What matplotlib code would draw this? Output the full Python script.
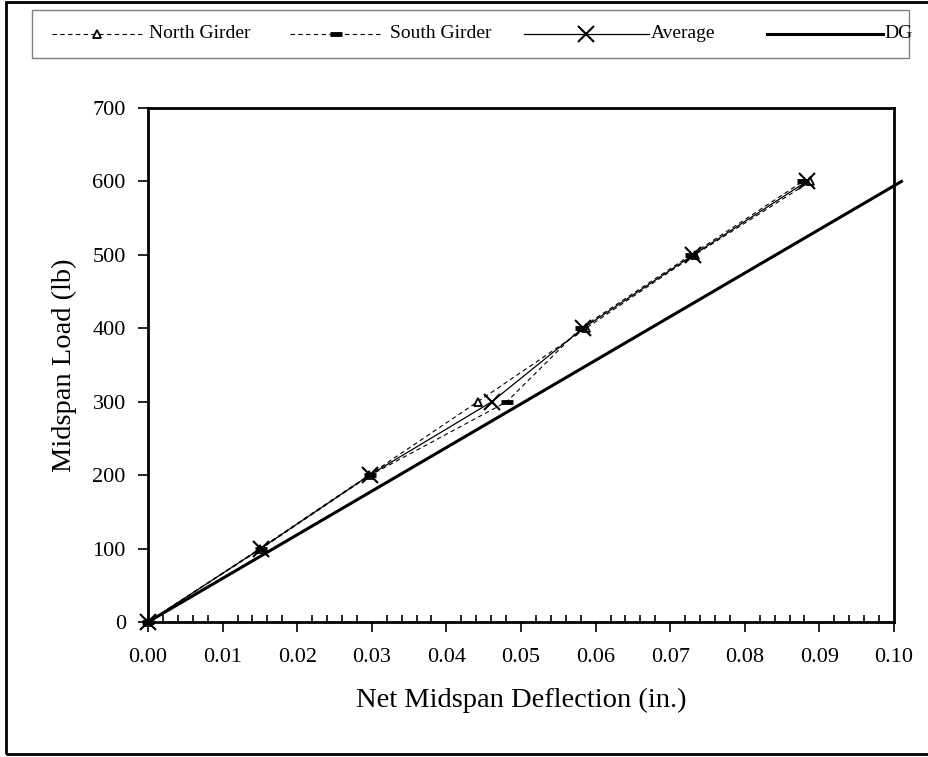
import matplotlib.pyplot as plt
from matplotlib.patches import Rectangle
from matplotlib.lines import Line2D
from matplotlib.ticker import MultipleLocator

plt.rcParams['font.family'] = ['Liberation Serif', 'DejaVu Serif']

# data
load = [0, 100, 200, 300, 400, 500, 600]
north = [0.0, 0.0150, 0.0296, 0.0442, 0.0587, 0.0733, 0.0888]
south = [0.0, 0.0152, 0.0298, 0.0481, 0.0580, 0.0728, 0.0878]
average = [0.0, 0.0151, 0.0297, 0.0461, 0.0583, 0.0731, 0.0883]
dg_defl = [0.0, 0.0505, 0.1010]
dg_load = [0, 300, 600]

W, H = 929, 757
fig = plt.figure(figsize=(W / 100, H / 100), dpi=100)
ax = fig.add_axes([148 / W, 1 - 622 / H, (894 - 148) / W, (622 - 108) / H])


def fx(x):
    return x / W


def fy(y):
    return 1 - y / H


# outer frame
fig.patches.append(Rectangle((fx(6), fy(754)), 1.0, (754 - 2) / H, transform=fig.transFigure,
                             fill=False, edgecolor='black', linewidth=2, clip_on=False))

styles = {
    'North Girder': dict(color='black', lw=0.8, ls=(0, (4, 3)), marker='^', ms=6,
                         mfc='white', mec='black', mew=1.3),
    'South Girder': dict(color='black', lw=0.8, ls=(0, (4, 3)), marker='_', ms=8,
                         mew=3.5, mec='black'),
    'Average': dict(color='black', lw=0.9, marker='x', ms=12, mew=1.5),
    'DG': dict(color='black', lw=2.2),
}

ax.plot(north, load, clip_on=False, **styles['North Girder'])
ax.plot(south, load, clip_on=False, **styles['South Girder'])
ax.plot(average, load, clip_on=False, **styles['Average'])
ax.plot(dg_defl, dg_load, clip_on=False, **styles['DG'])

ax.set_xlim(0, 0.10)
ax.set_ylim(0, 700)
ax.xaxis.set_major_locator(MultipleLocator(0.01))
ax.xaxis.set_minor_locator(MultipleLocator(0.002))
ax.yaxis.set_major_locator(MultipleLocator(100))
ax.xaxis.set_major_formatter(plt.FuncFormatter(lambda v, p: f'{v:.2f}'))

for s in ax.spines.values():
    s.set_linewidth(2)
ax.tick_params(axis='x', which='major', direction='out', length=7, width=1.2,
               labelsize=16, pad=12)
ax.tick_params(axis='x', which='minor', direction='in', length=5, width=1.2)
ax.tick_params(axis='y', which='major', direction='out', length=7, width=1.2,
               labelsize=16, pad=9)

ax.set_xlabel('Net Midspan Deflection (in.)', fontsize=20.5, labelpad=15)
ax.set_ylabel('Midspan Load (lb)', fontsize=20.5, labelpad=11)

# legend box drawn by hand, Excel style
fig.patches.append(Rectangle((fx(32), fy(58)), (909 - 32) / W, (58 - 10) / H,
                             transform=fig.transFigure, fill=False,
                             edgecolor='#808080', linewidth=1))
leg_y = 34
leg_entries = [
    ('North Girder', 52, 143, 149),
    ('South Girder', 290, 383, 390),
    ('Average', 524, 649, 651),
    ('DG', 767, 883, 884),
]
for name, x0, x1, xt in leg_entries:
    st = dict(styles[name])
    marker = st.pop('marker', None)
    ms = st.pop('ms', None)
    mfc = st.pop('mfc', 'black')
    mec = st.pop('mec', 'black')
    mew = st.pop('mew', 1)
    fig.add_artist(Line2D([fx(x0), fx(x1)], [fy(leg_y), fy(leg_y)],
                          transform=fig.transFigure, **st))
    if marker:
        fig.add_artist(Line2D([fx((x0 + x1) / 2)], [fy(leg_y)], transform=fig.transFigure,
                              ls='none', marker=marker, ms=ms, mfc=mfc, mec=mec, mew=mew))
    fig.text(fx(xt), fy(leg_y), name, fontsize=14, ha='left', va='center')

fig.savefig('out.png', dpi=100)
